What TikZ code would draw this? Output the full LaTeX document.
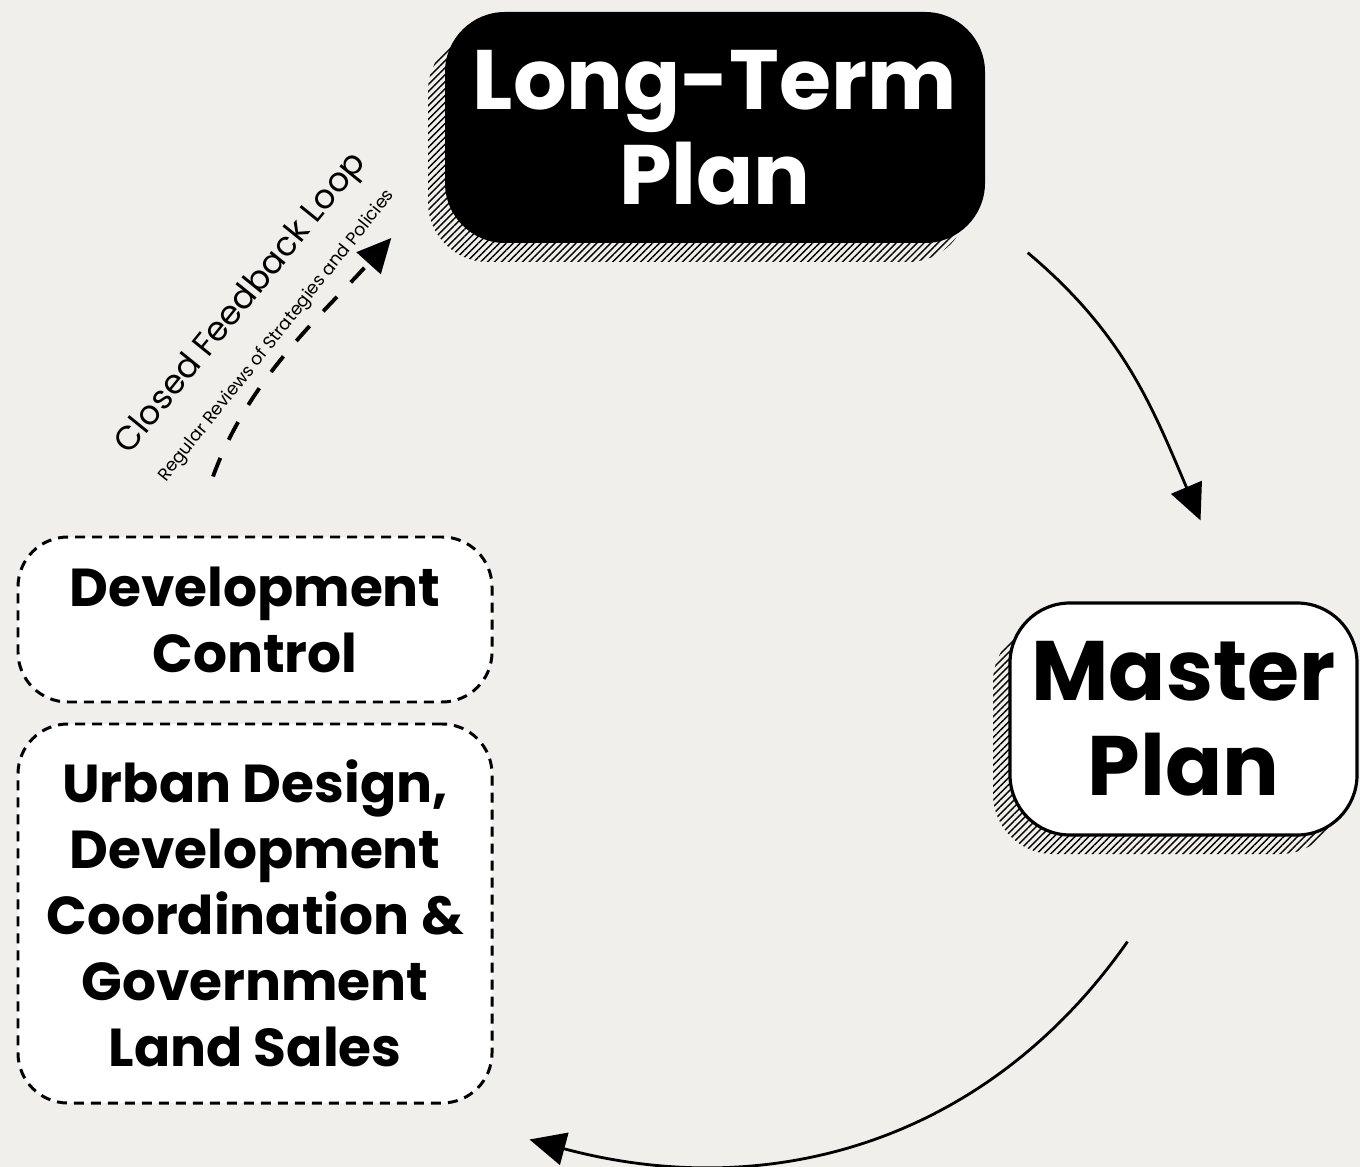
\documentclass[tikz,border=0pt]{standalone}
\usepackage{fontspec}
\setmainfont{Poppins}
\usetikzlibrary{arrows.meta, patterns.meta, shadows}
\definecolor{paper}{HTML}{F0EFEB}
\newcommand{\planfont}{\fontsize{24}{27}\selectfont\bfseries}
\newcommand{\taskfont}{\fontsize{15.2}{18.8}\selectfont\bfseries}

\begin{document}
\begin{tikzpicture}
				\tikzstyle{hatch} = [general shadow={shadow xshift=-1.7mm, shadow yshift=-1.9mm, pattern={Lines[angle=45,distance=1.4pt,line width=0.4pt]}}]
				\tikzstyle{plan} = [rounded corners=6mm, align=center, inner sep=0pt, font=\planfont, hatch]
				\tikzstyle{task} = [fill=white, draw=black, line width=0.85pt, dash pattern=on 1mm off 0.7mm, rounded corners=5mm, align=center, inner sep=0pt, minimum width=4.74cm, font=\taskfont]
				\tikzstyle{flow} = [line width=0.8pt, -{Triangle[length=3.6mm,width=3.3mm]}]
				\tikzstyle{loop} = [line width=1.1pt, dash pattern=on 2mm off 2mm, -{Triangle[length=3.4mm,width=3.2mm]}]
				\useasboundingbox (0,0) rectangle (13.6,-11.67);
				\fill[paper] (0,0) rectangle (13.6,-11.67);
				\node[plan,fill=black,text=white,minimum width=5.4cm,minimum height=2.31cm] (ltp) at (7.15,-1.275) {Long-Term\\Plan};
				\node[plan,fill=white,draw=black,line width=0.9pt,minimum width=3.47cm,minimum height=2.32cm] (mp) at (11.835,-7.19) {Master\\Plan};
				\node[task,minimum height=1.65cm] (dc) at (2.55,-6.195) {Development\\Control};
				\node[task,minimum height=3.79cm] (ud) at (2.55,-9.135) {Urban Design,\\Development\\Coordination \&\\Government\\Land Sales};
				% captions of the feedback loop
				\node[rotate=51,font=\fontsize{9.5}{10}\selectfont] (cfl) at (2.42,-3.04) {Closed Feedback Loop};
				\node[rotate=51.5,font=\fontsize{5}{5}\selectfont] (rrsp) at (2.77,-3.36) {Regular Reviews of Strategies and Policies};
				\draw[flow] ([xshift=4.2mm,yshift=-0.9mm]ltp.south east) to[out=-40,in=113] ([xshift=1.7mm,yshift=8.1mm]mp.north);
				\draw[flow] ([xshift=-5.6mm,yshift=-10.5mm]mp.south) to[out=235,in=-15] ([xshift=3.6mm,yshift=-3.5mm]ud.south east);
				\draw[loop] ([xshift=-4.2mm,yshift=5.9mm]dc.north) to[out=70,in=228,looseness=0.9] ([xshift=-5.3mm,yshift=-11.05mm]ltp.west);
				\end{tikzpicture}
\end{document}
